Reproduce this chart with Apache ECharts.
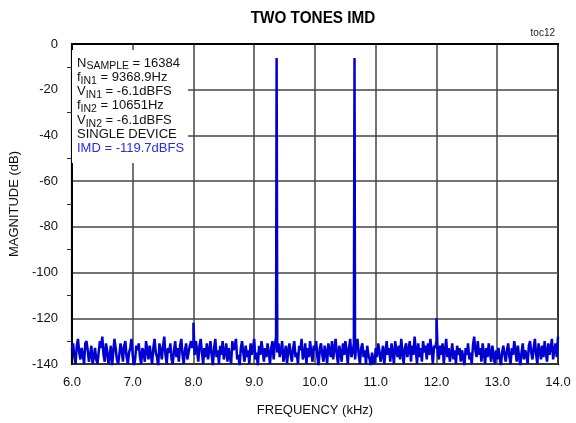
<!DOCTYPE html>
<html>
<head>
<meta charset="utf-8">
<script src="https://cdn.jsdelivr.net/npm/echarts@6/dist/echarts.min.js"></script>
<style>html,body{margin:0;padding:0;background:#fff}#c{width:576px;height:423px}</style>
</head>
<body>
<div id="c"></div>
<script>
// ---- data ----
var title = 'TWO TONES IMD';
var noiseStartKHz = 6.0;
var noiseBinKHz = 0.02;
var noiseDb = [
  -134,-131,-137,-140,-132,-129,-135,-138,-133,-136,-140,-131,-130,-134,-139,-136,-132,-140,-137,-133,
  -138,-140,-135,-130,-133,-128,-136,-139,-131,-134,-140,-137,-132,-141,-135,-129,-133,-138,-140,-136,
  -131,-134,-139,-132,-130,-137,-140,-135,-133,-129,-136,-141,-138,-132,-134,-131,-137,-140,-133,-135,
  -139,-130,-134,-138,-132,-136,-140,-133,-129,-135,-137,-141,-131,-134,-138,-132,-128,-136,-140,-133,
  -135,-131,-138,-140,-134,-130,-137,-133,-139,-132,-129,-136,-140,-134,-131,-138,-135,-132,-130,-133,
  -131,-136,-130,-134,-139,-132,-129,-135,-140,-133,-137,-131,-138,-134,-130,-136,-141,-133,-129,-137,
  -134,-140,-132,-136,-130,-138,-135,-131,-139,-133,-137,-140,-130,-134,-132,-129,-138,-136,-141,-133,
  -130,-135,-139,-132,-137,-134,-140,-131,-136,-133,-129,-138,-135,-141,-132,-136,-130,-134,-139,-133,
  -137,-131,-135,-140,-133,-130,-138,-132,-128,-135,-131,-137,-134,-130,-139,-136,-132,-140,-134,-131,
  -136,-139,-133,-130,-137,-135,-140,-132,-134,-129,-138,-136,-131,-140,-133,-137,-130,-135,-139,-132,
  -134,-130,-137,-141,-133,-131,-136,-139,-132,-135,-140,-131,-134,-137,-130,-138,-133,-129,-136,-140,
  -132,-135,-139,-131,-136,-130,-134,-140,-133,-129,-137,-135,-131,-138,-132,-129,-136,-140,-133,-131,
  -137,-134,-140,-132,-136,-138,-141,-135,-139,-140,-133,-137,-131,-134,-139,-136,-132,-140,-135,-130,
  -136,-133,-139,-131,-135,-140,-130,-134,-137,-132,-138,-129,-135,-140,-133,-131,-137,-134,-130,-139,
  -132,-136,-128,-134,-140,-131,-137,-133,-139,-130,-135,-132,-138,-131,-136,-129,-134,-140,-132,-133,
  -130,-135,-138,-132,-136,-131,-140,-134,-129,-137,-133,-139,-135,-131,-138,-134,-140,-132,-136,-133,
  -139,-134,-137,-141,-133,-136,-131,-138,-135,-140,-132,-128,-134,-137,-130,-136,-133,-139,-131,-135,
  -140,-133,-137,-131,-135,-139,-132,-136,-140,-134,-138,-133,-137,-141,-135,-132,-136,-139,-134,-131,
  -137,-140,-133,-136,-130,-134,-139,-132,-137,-141,-135,-131,-138,-134,-136,-140,-132,-130,-135,-138,
  -133,-129,-136,-140,-131,-134,-138,-132,-137,-130,-135,-139,-131,-136,-133,-129,-138,-134,-131,-137,
  -128
];
var toneFreqKHz = [8.0, 9.3689, 10.651, 12.0];
var toneDb = [-122, -6.1, -6.1, -120];
var infoLines = [
  ['N', 'SAMPLE', ' = 16384'],
  ['f', 'IN1', ' = 9368.9Hz'],
  ['V', 'IN1', ' = -6.1dBFS'],
  ['f', 'IN2', ' = 10651Hz'],
  ['V', 'IN2', ' = -6.1dBFS'],
  ['SINGLE DEVICE', '', '']
];
var imdText = 'IMD = -119.7dBFS';

// ---- build ----
var pts = noiseDb.map(function (v, i) { return [noiseStartKHz + i * noiseBinKHz, v]; });
toneFreqKHz.forEach(function (f, i) { pts.push([f, toneDb[i]]); });
pts.sort(function (a, b) { return a[0] - b[0]; });

var F = 'Liberation Sans, Arial, sans-serif';
var rich = {
  m: { fontFamily: F, fontSize: 13, fill: '#111', lineHeight: 14.3, verticalAlign: 'middle' },
  s: { fontFamily: F, fontSize: 10.5, fill: '#111', lineHeight: 10, padding: [7, 0, 0, 0], verticalAlign: 'middle' },
  b: { fontFamily: F, fontSize: 13, fill: '#2a2af0', lineHeight: 14.3, verticalAlign: 'middle' }
};
var txt = infoLines.map(function (l) {
  return '{m|' + l[0] + '}' + (l[1] ? '{s|' + l[1] + '}' : '') + (l[2] ? '{m|' + l[2] + '}' : '');
}).join('\n') + '\n{b|' + imdText + '}';

var chart = echarts.init(document.getElementById('c'), null, { renderer: 'canvas' });
chart.setOption({
  animation: false,
  backgroundColor: '#fff',
  grid: { left: 66, right: 18, top: 44, bottom: 59, show: true, borderColor: '#000', borderWidth: 2, backgroundColor: 'transparent' },
  xAxis: {
    type: 'value', min: 6, max: 14, interval: 1,
    name: 'FREQUENCY (kHz)', nameLocation: 'middle', nameGap: 40,
    nameTextStyle: { fontFamily: F, fontSize: 13, color: '#111' },
    axisLine: { lineStyle: { color: '#000', width: 2 } },
    axisTick: { show: false },
    axisLabel: { fontFamily: F, fontSize: 13, color: '#111', margin: 12, formatter: function (v) { return v.toFixed(1); } },
    splitLine: { show: true, lineStyle: { color: '#444', width: 1.5 } }
  },
  yAxis: {
    type: 'value', min: -140, max: 0, interval: 20,
    name: 'MAGNITUDE (dB)', nameLocation: 'middle', nameGap: 41,
    nameTextStyle: { fontFamily: F, fontSize: 13, color: '#111' },
    axisLine: { lineStyle: { color: '#000', width: 2 } },
    axisTick: { show: false },
    minorTick: { show: true, splitNumber: 2, length: 5, lineStyle: { color: '#333', width: 1 } },
    axisLabel: { fontFamily: F, fontSize: 13, color: '#111', margin: 14 },
    splitLine: { show: true, lineStyle: { color: '#444', width: 1.5 } }
  },
  graphic: [
    { type: 'text', x: 313, y: 10, scaleX: 0.9, style: { text: title, textAlign: 'center', fontFamily: F, fontWeight: 'bold', fontSize: 17, fill: '#000' } },
    { type: 'text', right: 21, top: 28, style: { text: 'toc12', fontFamily: F, fontSize: 10, fill: '#222' } },
    { type: 'rect', left: 72, top: 50, shape: { width: 116, height: 113 }, style: { fill: '#fff' }, z: 10 },
    { type: 'text', left: 77, top: 54, z: 11, style: { text: txt, rich: rich } }
  ],
  series: [{
    type: 'line', data: pts, showSymbol: false, symbol: 'none',
    lineStyle: { color: '#0000d0', width: 2.5 }, z: 5
  }]
});
</script>
</body>
</html>
